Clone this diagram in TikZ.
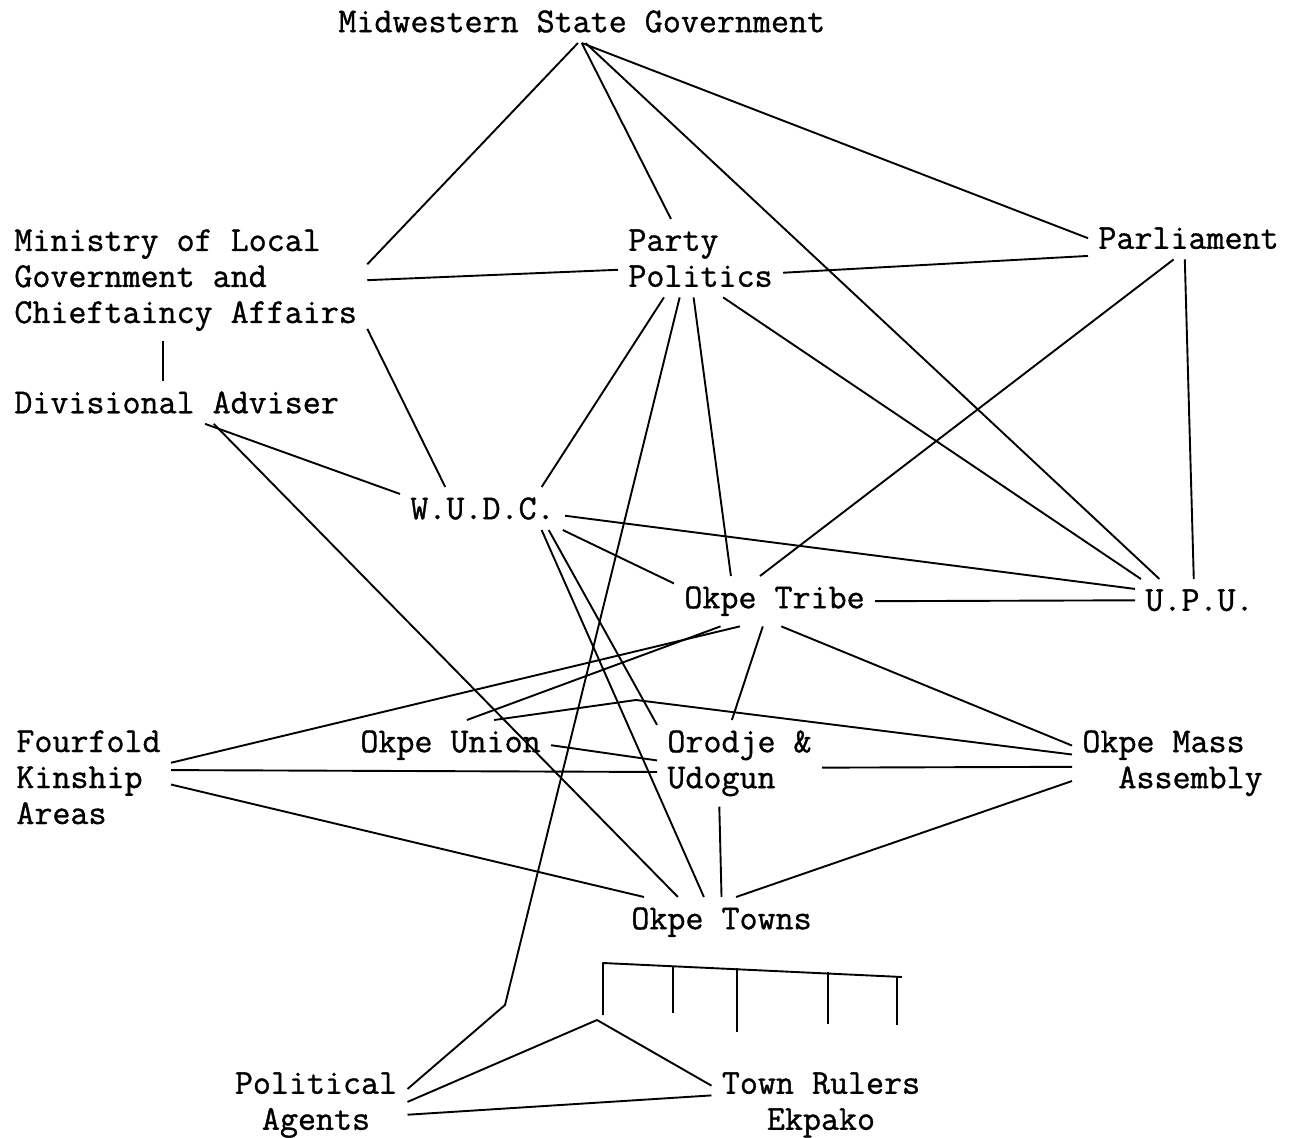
\documentclass[tikz,border=0pt]{standalone}
\usepackage{fontspec}
\usepackage{tikz}
\newfontfamily\typewriter{Latin Modern Mono}[FakeBold=1]

\begin{document}
\begin{tikzpicture}[
    x=0.5pt, y=-0.5pt,
    lbl/.style={font=\fontsize{17.5}{18}\selectfont\typewriter, inner sep=5pt, align=left, anchor=north west},
    mid/.style={lbl, align=center, anchor=north},
    link/.style={line width=0.95pt, line join=round},
  ]
  \useasboundingbox (0,0) rectangle (1293,1138);
  \node[lbl] (msg)    at (328,0)     {Midwestern State Government};
  \node[lbl] (mlg)    at (4,219)     {Ministry of Local\\Government and\\Chieftaincy Affairs};
  \node[lbl] (adv)    at (4,381)     {Divisional Adviser};
  \node[lbl] (party)  at (618,219)   {Party\\Politics};
  \node[lbl] (parl)   at (1088,217)  {Parliament};
  \node[lbl] (wudc)   at (400,487)   {W.U.D.C.};
  \node[lbl] (tribe)  at (674,576)   {Okpe Tribe};
  \node[lbl] (upu)    at (1135,579)  {U.P.U.};
  \node[lbl] (four)   at (6,720)     {Fourfold\\Kinship\\Areas};
  \node[lbl] (union)  at (350,720)   {Okpe Union};
  \node[lbl] (orodje) at (657,720)   {Orodje \&\\Udogun};
  \node[lbl] (mass)   at (1072,720)  {Okpe Mass\\~~Assembly};
  \node[lbl] (towns)  at (621,897)   {Okpe Towns};
  \node[mid] (agents) at (316,1062)  {Political\\Agents};
  \node[mid] (rulers) at (821,1062)  {Town Rulers\\Ekpako};
  \coordinate (kink) at (505,1005);
  \coordinate (bend) at (636,700);
  \coordinate (apex) at (597,1020);

  \draw[link] (msg.-100) -- (mlg.5);
  \draw[link] (msg.south) -- (party.127);
  \draw[link] (msg.south) -- (parl.west);
  \draw[link] (msg.-80) -- (upu.152);
  \draw[link] (mlg.east) -- (party.188);
  \draw[link] (parl.190) -- (party.-10);
  \draw[link] (mlg.-15) -- (wudc.150);
  \draw[link] ([xshift=-7pt]adv.north) -- ([xshift=-7pt]adv.north |- mlg.south);
  \draw[link] (adv.-37) -- (wudc.170);
  \draw[link] (adv.-30) -- (towns.150);
  \draw[link] (party.-133) -- (wudc.20);
  \draw[link] (party.-100) -- (tribe.150);
  \draw[link] (party.-60) -- (upu.160);
  \draw[link] (party.-118) -- (kink) -- (agents.10);
  \draw[link] (parl.-100) -- (upu.105);
  \draw[link] (parl.-125) -- (tribe.120);
  \draw[link] (wudc.-5) -- (upu.170);
  \draw[link] (wudc.-15) -- (tribe.170);
  \draw[link] (wudc.-20) -- (towns.125);
  \draw[link] (wudc.-18) -- (orodje.155);
  \draw[link] (tribe.east) -- (upu.west);
  \draw[link] (tribe.-144) -- (four.10);
  \draw[link] (tribe.-155) -- (union.57);
  \draw[link] (tribe.-115) -- (orodje.100);
  \draw[link] (tribe.-75) -- (mass.170);
  \draw[link] (union.30) -- (bend) -- (mass.175);
  \draw[link] (union.east) -- (orodje.178);
  \draw[link] (four.5) -- (orodje.186);
  \draw[link] (four.-5) -- (towns.162);
  \draw[link] (orodje.-3) -- (mass.182);
  \draw[link] (orodje.-115) -- (towns.north);
  \draw[link] (towns.60) -- (mass.190);
  \draw[link] (apex) -- (agents.2);
  \draw[link] (apex) -- (rulers.170);
  \draw[link] (agents.-6) -- (rulers.175);
  \draw[link] (603,1015) -- (603,963) -- (902,977);
  \foreach \x/\a/\b in {673/966/1013, 737/968/1032, 828/972/1024, 897/976/1025}
    \draw[link] (\x,\a) -- (\x,\b);
\end{tikzpicture}
\end{document}
